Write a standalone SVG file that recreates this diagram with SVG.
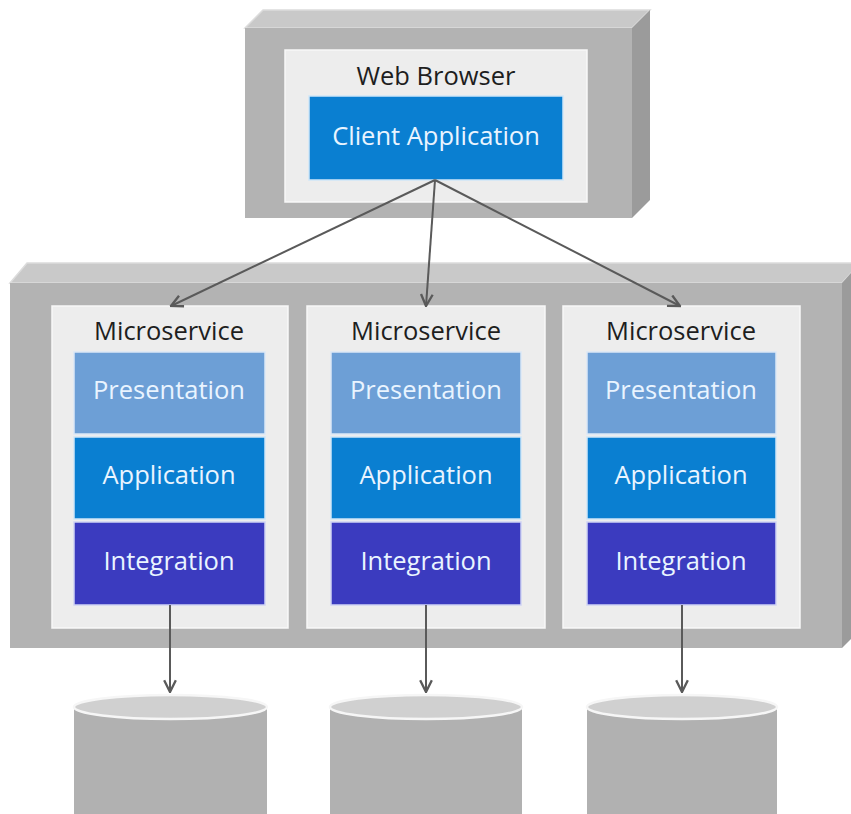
<svg xmlns="http://www.w3.org/2000/svg" width="851" height="814" viewBox="0 0 851 814">
<defs>
<style>
.front{fill:#b3b3b3;}
.top{fill:#c9c9c9;stroke:#dcdcdc;stroke-width:1.5;}
.side{fill:#9b9b9b;}
.panel{fill:#ededed;stroke:#f8f8f8;stroke-width:1.5;}
.pres{fill:#6d9fd6;stroke:#dbe8f6;stroke-width:1.5;}
.app{fill:#0a7fd1;stroke:#cfe6f8;stroke-width:1.5;}
.integ{fill:#3b3bbf;stroke:#d0d4f4;stroke-width:1.5;}
.lbl{font-family:"Open Sans","Noto Sans",sans-serif;font-size:25.5px;text-anchor:middle;fill:#1e1e1e;}
.wl{font-family:"Open Sans","Noto Sans",sans-serif;font-size:25.5px;text-anchor:middle;fill:#e9f4ff;}
.conn{stroke:#5a5a5a;stroke-width:2;fill:none;marker-end:url(#arr);}
.cylbody{fill:#b1b1b1;}
.cyltop{fill:#d0d0d0;stroke:#f6f6f6;stroke-width:2.5;}
</style>
<marker id="arr" viewBox="0 0 12 12" refX="11" refY="6" markerWidth="14" markerHeight="14" markerUnits="userSpaceOnUse" orient="auto">
<path d="M1,1 L11,6 L1,11" fill="none" stroke="#5a5a5a" stroke-width="2"/>
</marker>
</defs>

<g id="web-browser">
<polygon class="top" points="245,28 263,10 650,10 632,28"/>
<polygon class="side" points="632,28 650,10 650,200 632,218"/>
<rect class="front" x="245" y="28" width="387" height="190"/>
<rect class="panel" x="285" y="50" width="302" height="152"/>
<text class="lbl" x="436" y="85">Web Browser</text>
<g id="client-application">
<rect class="app" x="309" y="96" width="254" height="84"/>
<text class="wl" x="436" y="145">Client Application</text>
</g>
</g>

<g id="container">
<polygon class="top" points="10,283 27,263 860,263 842,283"/>
<polygon class="side" points="842,283 860,263 860,630 842,648"/>
<rect class="front" x="10" y="283" width="832" height="365"/>
</g>

<g id="microservice-1">
<rect class="panel" x="52" y="306" width="236" height="322"/>
<text class="lbl" x="169" y="340">Microservice</text>
<rect class="pres" x="74" y="352" width="191" height="82"/>
<text class="wl" x="169" y="399">Presentation</text>
<rect class="app" x="74" y="437" width="191" height="82"/>
<text class="wl" x="169" y="484">Application</text>
<rect class="integ" x="74" y="522" width="191" height="83"/>
<text class="wl" x="169" y="570">Integration</text>
</g>

<g id="microservice-2">
<rect class="panel" x="307" y="306" width="238" height="322"/>
<text class="lbl" x="426" y="340">Microservice</text>
<rect class="pres" x="331" y="352" width="190" height="82"/>
<text class="wl" x="426" y="399">Presentation</text>
<rect class="app" x="331" y="437" width="190" height="82"/>
<text class="wl" x="426" y="484">Application</text>
<rect class="integ" x="331" y="522" width="190" height="83"/>
<text class="wl" x="426" y="570">Integration</text>
</g>

<g id="microservice-3">
<rect class="panel" x="563" y="306" width="237" height="322"/>
<text class="lbl" x="681" y="340">Microservice</text>
<rect class="pres" x="587" y="352" width="189" height="82"/>
<text class="wl" x="681" y="399">Presentation</text>
<rect class="app" x="587" y="437" width="189" height="82"/>
<text class="wl" x="681" y="484">Application</text>
<rect class="integ" x="587" y="522" width="189" height="83"/>
<text class="wl" x="681" y="570">Integration</text>
</g>

<g id="database-1">
<rect class="cylbody" x="74" y="707" width="193" height="110"/>
<ellipse class="cyltop" cx="170.5" cy="707" rx="96.5" ry="12"/>
</g>
<g id="database-2">
<rect class="cylbody" x="330" y="707" width="192" height="110"/>
<ellipse class="cyltop" cx="426" cy="707" rx="96" ry="12"/>
</g>
<g id="database-3">
<rect class="cylbody" x="587" y="707" width="190" height="110"/>
<ellipse class="cyltop" cx="682" cy="707" rx="95" ry="12"/>
</g>

<g id="connectors">
<line class="conn" x1="435" y1="180" x2="171" y2="306"/>
<line class="conn" x1="435" y1="180" x2="426" y2="306"/>
<line class="conn" x1="435" y1="180" x2="680" y2="306"/>
<line class="conn" x1="170" y1="605" x2="170" y2="692"/>
<line class="conn" x1="426" y1="605" x2="426" y2="692"/>
<line class="conn" x1="682" y1="605" x2="682" y2="692"/>
</g>
</svg>
